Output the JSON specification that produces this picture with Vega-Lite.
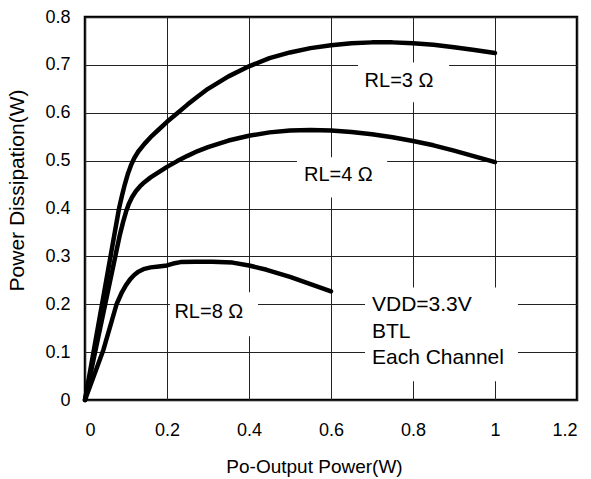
{
  "$schema": "https://vega.github.io/schema/vega-lite/v6.json",
  "width": 492,
  "height": 383,
  "autosize": {"type": "none"},
  "padding": {"left": 85, "top": 17, "right": 14, "bottom": 79},
  "background": "white",
  "config": {
    "font": "Liberation Sans",
    "view": {"stroke": "black", "strokeWidth": 2.5},
    "axis": {
      "grid": true,
      "gridColor": "#222222",
      "gridWidth": 1,
      "gridOpacity": 1,
      "domain": false,
      "ticks": false,
      "labelFont": "Liberation Sans",
      "labelFontSize": 18,
      "labelColor": "black",
      "titleFont": "Liberation Sans",
      "titleFontWeight": "normal",
      "titleColor": "black"
    }
  },
  "datasets": {
    "curves": [
      {"series": "RL=3", "x": 0, "y": 0},
      {"series": "RL=3", "x": 0.083, "y": 0.4},
      {"series": "RL=3", "x": 0.09, "y": 0.426},
      {"series": "RL=3", "x": 0.097, "y": 0.45},
      {"series": "RL=3", "x": 0.104, "y": 0.471},
      {"series": "RL=3", "x": 0.112, "y": 0.49},
      {"series": "RL=3", "x": 0.12, "y": 0.505},
      {"series": "RL=3", "x": 0.13, "y": 0.519},
      {"series": "RL=3", "x": 0.145, "y": 0.535},
      {"series": "RL=3", "x": 0.16, "y": 0.549},
      {"series": "RL=3", "x": 0.18, "y": 0.565},
      {"series": "RL=3", "x": 0.2, "y": 0.581},
      {"series": "RL=3", "x": 0.225, "y": 0.599},
      {"series": "RL=3", "x": 0.25, "y": 0.617},
      {"series": "RL=3", "x": 0.275, "y": 0.634},
      {"series": "RL=3", "x": 0.3, "y": 0.65},
      {"series": "RL=3", "x": 0.35, "y": 0.676},
      {"series": "RL=3", "x": 0.4, "y": 0.697},
      {"series": "RL=3", "x": 0.45, "y": 0.714},
      {"series": "RL=3", "x": 0.5, "y": 0.726},
      {"series": "RL=3", "x": 0.55, "y": 0.735},
      {"series": "RL=3", "x": 0.6, "y": 0.741},
      {"series": "RL=3", "x": 0.65, "y": 0.745},
      {"series": "RL=3", "x": 0.7, "y": 0.747},
      {"series": "RL=3", "x": 0.75, "y": 0.747},
      {"series": "RL=3", "x": 0.8, "y": 0.745},
      {"series": "RL=3", "x": 0.85, "y": 0.742},
      {"series": "RL=3", "x": 0.9, "y": 0.737},
      {"series": "RL=3", "x": 0.95, "y": 0.731},
      {"series": "RL=3", "x": 1.0, "y": 0.725},
      {"series": "RL=4", "x": 0, "y": 0},
      {"series": "RL=4", "x": 0.085, "y": 0.345},
      {"series": "RL=4", "x": 0.093, "y": 0.372},
      {"series": "RL=4", "x": 0.1, "y": 0.393},
      {"series": "RL=4", "x": 0.107, "y": 0.41},
      {"series": "RL=4", "x": 0.115, "y": 0.424},
      {"series": "RL=4", "x": 0.124, "y": 0.436},
      {"series": "RL=4", "x": 0.134, "y": 0.446},
      {"series": "RL=4", "x": 0.145, "y": 0.455},
      {"series": "RL=4", "x": 0.16, "y": 0.465},
      {"series": "RL=4", "x": 0.18, "y": 0.476},
      {"series": "RL=4", "x": 0.2, "y": 0.487},
      {"series": "RL=4", "x": 0.225, "y": 0.499},
      {"series": "RL=4", "x": 0.25, "y": 0.51},
      {"series": "RL=4", "x": 0.275, "y": 0.52},
      {"series": "RL=4", "x": 0.3, "y": 0.528},
      {"series": "RL=4", "x": 0.35, "y": 0.542},
      {"series": "RL=4", "x": 0.4, "y": 0.552},
      {"series": "RL=4", "x": 0.45, "y": 0.559},
      {"series": "RL=4", "x": 0.5, "y": 0.563},
      {"series": "RL=4", "x": 0.55, "y": 0.564},
      {"series": "RL=4", "x": 0.6, "y": 0.563},
      {"series": "RL=4", "x": 0.65, "y": 0.56},
      {"series": "RL=4", "x": 0.7, "y": 0.555},
      {"series": "RL=4", "x": 0.75, "y": 0.549},
      {"series": "RL=4", "x": 0.8, "y": 0.541},
      {"series": "RL=4", "x": 0.85, "y": 0.532},
      {"series": "RL=4", "x": 0.9, "y": 0.521},
      {"series": "RL=4", "x": 0.95, "y": 0.509},
      {"series": "RL=4", "x": 1.0, "y": 0.497},
      {"series": "RL=8", "x": 0, "y": 0},
      {"series": "RL=8", "x": 0.045, "y": 0.105},
      {"series": "RL=8", "x": 0.077, "y": 0.2},
      {"series": "RL=8", "x": 0.09, "y": 0.225},
      {"series": "RL=8", "x": 0.1, "y": 0.24},
      {"series": "RL=8", "x": 0.11, "y": 0.252},
      {"series": "RL=8", "x": 0.12, "y": 0.261},
      {"series": "RL=8", "x": 0.13, "y": 0.268},
      {"series": "RL=8", "x": 0.145, "y": 0.274},
      {"series": "RL=8", "x": 0.16, "y": 0.277},
      {"series": "RL=8", "x": 0.18, "y": 0.279},
      {"series": "RL=8", "x": 0.2, "y": 0.281},
      {"series": "RL=8", "x": 0.215, "y": 0.285},
      {"series": "RL=8", "x": 0.233, "y": 0.288},
      {"series": "RL=8", "x": 0.27, "y": 0.289},
      {"series": "RL=8", "x": 0.31, "y": 0.289},
      {"series": "RL=8", "x": 0.36, "y": 0.287},
      {"series": "RL=8", "x": 0.4, "y": 0.281},
      {"series": "RL=8", "x": 0.443, "y": 0.272},
      {"series": "RL=8", "x": 0.5, "y": 0.257},
      {"series": "RL=8", "x": 0.55, "y": 0.242},
      {"series": "RL=8", "x": 0.6, "y": 0.227}
    ],
    "boxes": [
      {"label": "RL=3", "x1": 0.666, "x2": 0.888, "y1": 0.622, "y2": 0.705},
      {"label": "RL=4", "x1": 0.517, "x2": 0.737, "y1": 0.423, "y2": 0.507},
      {"label": "RL=8", "x1": 0.207, "x2": 0.422, "y1": 0.133, "y2": 0.225},
      {"label": "VDD", "x1": 0.683, "x2": 1.056, "y1": 0.039, "y2": 0.235}
    ],
    "labels": [
      {"text": "RL=3 Ω", "x": 0.766, "y": 0.666},
      {"text": "RL=4 Ω", "x": 0.618, "y": 0.471},
      {"text": "RL=8 Ω", "x": 0.302, "y": 0.183}
    ],
    "notes": [
      {"text": "VDD=3.3V", "x": 0.7, "y": 0.199},
      {"text": "BTL", "x": 0.7, "y": 0.141},
      {"text": "Each Channel", "x": 0.7, "y": 0.088}
    ]
  },
  "layer": [
    {
      "data": {"name": "boxes"},
      "mark": {"type": "rect", "fill": "white", "stroke": null},
      "encoding": {
        "x": {
          "field": "x1", "type": "quantitative",
          "scale": {"domain": [0, 1.2], "nice": false, "zero": false},
          "axis": {"values": [0, 0.2, 0.4, 0.6, 0.8, 1, 1.2], "format": "~g", "labelPadding": 21, "titleFontSize": 19, "titleX": 229, "titleY": 72, "titleAlign": "center", "titleBaseline": "alphabetic"},
          "title": "Po-Output Power(W)"
        },
        "x2": {"field": "x2"},
        "y": {
          "field": "y1", "type": "quantitative",
          "scale": {"domain": [0, 0.8], "nice": false, "zero": false},
          "axis": {"values": [0, 0.1, 0.2, 0.3, 0.4, 0.5, 0.6, 0.7, 0.8], "format": "~g", "labelPadding": 15, "titleFontSize": 21, "titleX": -68, "titleY": 173, "titleAlign": "center", "titleBaseline": "middle", "titleAngle": -90},
          "title": "Power Dissipation(W)"
        },
        "y2": {"field": "y2"}
      }
    },
    {
      "data": {"name": "curves"},
      "mark": {"type": "line", "color": "black", "strokeWidth": 4.5, "strokeCap": "round", "strokeJoin": "round", "interpolate": "linear"},
      "encoding": {
        "x": {"field": "x", "type": "quantitative", "title": "Po-Output Power(W)"},
        "y": {"field": "y", "type": "quantitative", "title": "Power Dissipation(W)"},
        "detail": {"field": "series"}
      }
    },
    {
      "data": {"name": "labels"},
      "mark": {"type": "text", "align": "center", "baseline": "middle", "fontSize": 20, "font": "Liberation Sans", "color": "black"},
      "encoding": {
        "x": {"field": "x", "type": "quantitative", "title": "Po-Output Power(W)"},
        "y": {"field": "y", "type": "quantitative", "title": "Power Dissipation(W)"},
        "text": {"field": "text"}
      }
    },
    {
      "data": {"name": "notes"},
      "mark": {"type": "text", "align": "left", "baseline": "middle", "fontSize": 21, "font": "Liberation Sans", "color": "black"},
      "encoding": {
        "x": {"field": "x", "type": "quantitative", "title": "Po-Output Power(W)"},
        "y": {"field": "y", "type": "quantitative", "title": "Power Dissipation(W)"},
        "text": {"field": "text"}
      }
    }
  ]
}
